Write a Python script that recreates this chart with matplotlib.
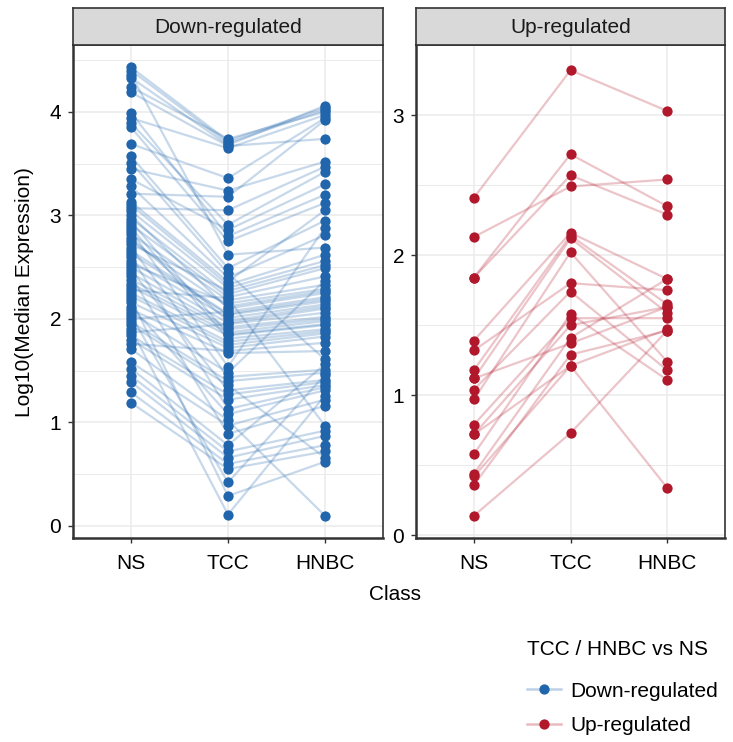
import matplotlib
matplotlib.use("Agg")
import matplotlib.pyplot as plt
from matplotlib.lines import Line2D

plt.rcParams['font.family'] = ['Liberation Sans', 'DejaVu Sans']

classes = ["NS", "TCC", "HNBC"]

# Down-regulated genes: log10 median expression per class
down_ns = [4.43, 4.40, 4.36, 4.33, 4.24, 4.19, 3.99, 3.94, 3.89, 3.85,
           3.69, 3.57, 3.51, 3.45, 3.35, 3.28, 3.21, 3.13, 3.10, 3.07,
           3.04, 3.00, 2.97, 2.94, 2.91, 2.88, 2.85, 2.82, 2.78, 2.75,
           2.72, 2.69, 2.66, 2.63, 2.60, 2.56, 2.53, 2.50, 2.47, 2.44,
           2.41, 2.38, 2.34, 2.31, 2.28, 2.25, 2.22, 2.19, 2.16, 2.12,
           2.09, 2.06, 2.03, 2.00, 1.97, 1.94, 1.90, 1.87, 1.84, 1.80,
           1.76, 1.71, 1.58, 1.52, 1.45, 1.39, 1.29, 1.19]
down_tcc = [3.72, 3.70, 2.62, 3.68, 3.74, 3.67, 2.80, 3.65, 2.91, 2.75,
            3.36, 2.49, 2.44, 3.24, 2.86, 2.40, 3.18, 2.36, 2.33, 3.05,
            2.30, 2.10, 2.24, 1.85, 2.21, 1.81, 1.54, 2.18, 1.98, 2.12,
            2.27, 1.44, 2.05, 2.04, 1.13, 2.01, 2.15, 1.96, 1.31, 1.92,
            0.89, 1.90, 1.87, 1.84, 2.20, 1.78, 1.75, 0.29, 1.72, 1.08,
            1.67, 1.48, 0.42, 2.07, 1.40, 1.36, 0.11, 1.95, 1.27, 1.22,
            1.69, 1.02, 0.97, 0.78, 0.72, 0.66, 0.60, 0.55]
down_hnbc = [4.04, 4.02, 2.69, 4.06, 4.00, 3.74, 3.20, 3.97, 3.42, 3.12,
             3.94, 2.95, 1.61, 3.52, 3.30, 2.81, 3.92, 3.05, 2.62, 3.47,
             2.56, 2.25, 2.49, 1.95, 2.41, 1.90, 2.88, 2.33, 2.12, 2.27,
             2.52, 1.51, 2.19, 2.17, 1.34, 2.14, 2.29, 2.10, 1.41, 2.02,
             1.16, 2.00, 1.98, 1.94, 0.97, 1.88, 1.86, 0.62, 1.83, 1.31,
             1.69, 2.37, 1.46, 2.21, 1.48, 0.66, 1.26, 2.06, 1.39, 1.36,
             1.77, 0.10, 1.22, 1.56, 0.92, 0.87, 0.78, 0.72]

# Up-regulated genes
up_ns = [2.41, 2.13, 1.84, 1.84, 1.39, 1.32, 1.18, 1.12, 0.97, 1.04,
         0.79, 0.72, 0.58, 0.44, 0.42, 0.36, 0.72, 0.14, 1.12]
up_tcc = [3.32, 2.49, 2.72, 2.57, 2.16, 1.80, 2.14, 2.12, 2.02, 1.74,
          1.55, 1.50, 1.58, 1.41, 1.21, 1.29, 1.21, 0.73, 1.37]
up_hnbc = [3.03, 2.54, 2.35, 2.29, 1.83, 1.75, 1.65, 1.59, 1.24, 1.18,
           1.55, 1.63, 1.11, 1.83, 1.47, 1.46, 0.34, 1.46, 1.63]

blue = "#2166AC"
red = "#B2182B"
dark = "#333333"
grid_col = "#EBEBEB"
fs = 15

W, H = 733, 742
fig = plt.figure(figsize=(W / 100, H / 100), dpi=100)


def px_axes(x0, y0, x1, y1):
    return fig.add_axes([x0 / W, 1 - y1 / H, (x1 - x0) / W, (y1 - y0) / H])


def draw_panel(ax, ns, tcc, hnbc, color, ymax, title, x0, x1):
    xs = range(len(classes))
    for a, b, c in zip(ns, tcc, hnbc):
        ax.plot(xs, [a, b, c], color=color, alpha=0.25, lw=1.6, zorder=2)
    for i, vals in enumerate([ns, tcc, hnbc]):
        ax.plot([i] * len(vals), vals, "o", color=color, ms=7.4, mec="none", zorder=3)

    lo = min(min(ns), min(tcc), min(hnbc))
    hi = max(max(ns), max(tcc), max(hnbc))
    pad = (hi - lo) * 0.05
    ax.set_ylim(lo - pad, hi + pad)
    ax.set_xlim(-0.6, 2.6)
    ax.set_xticks(list(xs))
    ax.set_xticklabels(classes)
    ax.set_yticks(range(ymax + 1))
    ax.set_yticks([v + 0.5 for v in range(ymax + 1)], minor=True)
    ax.grid(True, which="major", color=grid_col, lw=1.1, zorder=0)
    ax.grid(True, which="minor", axis="y", color=grid_col, lw=0.7, zorder=0)
    ax.set_axisbelow(True)
    ax.tick_params(axis="both", which="major", labelsize=fs, colors=dark,
                   labelcolor="black", length=3.5, width=1.0, pad=5)
    ax.tick_params(axis="x", which="major", pad=8)
    ax.tick_params(axis="y", which="minor", length=0)
    for side in ["top", "right"]:
        ax.spines[side].set_color(dark)
        ax.spines[side].set_linewidth(1.2)
    for side in ["left", "bottom"]:
        ax.spines[side].set_color(dark)
        ax.spines[side].set_linewidth(1.8)

    strip = px_axes(x0, 8, x1, 45)
    strip.set_facecolor("#D9D9D9")
    strip.set_xticks([])
    strip.set_yticks([])
    for s in strip.spines.values():
        s.set_color(dark)
        s.set_linewidth(1.2)
    strip.text(0.5, 0.48, title, ha="center", va="center", fontsize=fs,
               color="#1A1A1A", transform=strip.transAxes)


ax1 = px_axes(73, 45, 383, 538)
draw_panel(ax1, down_ns, down_tcc, down_hnbc, blue, 4, "Down-regulated", 73, 383)
ax2 = px_axes(416, 45, 725, 538)
draw_panel(ax2, up_ns, up_tcc, up_hnbc, red, 3, "Up-regulated", 416, 725)

fig.text(25 / W, 1 - 292 / H, "Log10(Median Expression)", rotation=90,
         ha="center", va="center", fontsize=fs)
fig.text(395 / W, 1 - 595 / H, "Class", ha="center", va="center", fontsize=fs)

# legend keys: light line behind a solid dot
handles = [
    Line2D([0], [0], color="#BCD1E6", lw=1.8, marker="o", ms=7.4, mec="none",
           mfc=blue),
    Line2D([0], [0], color="#E8BAC0", lw=1.8, marker="o", ms=7.4, mec="none",
           mfc=red),
]

leg = fig.legend(handles, ["Down-regulated", "Up-regulated"],
                 title="TCC / HNBC vs NS", loc="upper left",
                 bbox_to_anchor=(519 / W, 1 - 632 / H), frameon=False,
                 fontsize=fs, title_fontsize=fs, handlelength=1.6,
                 labelspacing=0.74, handletextpad=0.48, alignment="left",
                 borderaxespad=0.0)
leg._legend_box.sep = 16

fig.savefig("out.png", dpi=100)
